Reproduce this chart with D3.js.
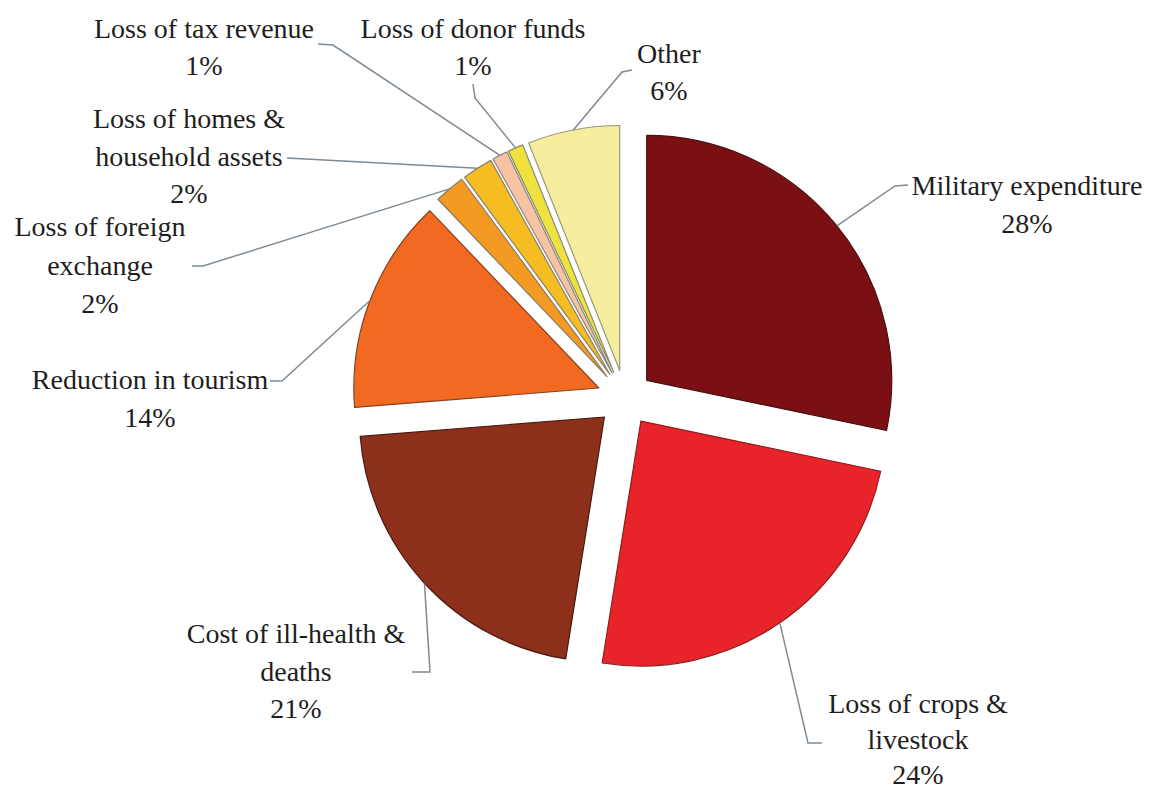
<!DOCTYPE html>
<html>
<head>
<meta charset="utf-8">
<script src="https://cdn.jsdelivr.net/npm/d3@7"></script>
<style>
  html, body { margin: 0; padding: 0; background: #ffffff; }
  svg { display: block; }
</style>
</head>
<body>
<svg id="chart" width="1158" height="793"></svg>
<script>
// ---- data ----
const categories = [
  "Military expenditure",
  "Loss of crops & livestock",
  "Cost of ill-health & deaths",
  "Reduction in tourism",
  "Loss of foreign exchange",
  "Loss of homes & household assets",
  "Loss of tax revenue",
  "Loss of donor funds",
  "Other"
];
const values = [28, 24, 21, 14, 2, 2, 1, 1, 6];
const percentLabels = ["28%", "24%", "21%", "14%", "2%", "2%", "1%", "1%", "6%"];
const labelLines = [
  ["Military expenditure"],
  ["Loss of crops &", "livestock"],
  ["Cost of ill-health &", "deaths"],
  ["Reduction in tourism"],
  ["Loss of foreign", "exchange"],
  ["Loss of homes &", "household assets"],
  ["Loss of tax revenue"],
  ["Loss of donor funds"],
  ["Other"]
];

// ---- styles / layout ----
const colors = ["#7a0f14", "#e8232a", "#8c2f1b", "#f26a22", "#f39a22", "#f5bd22", "#f7c3a2", "#efe23e", "#f6ee9e"];
const strokes = ["#4a1010", "#8a2020", "#4a1a10", "#8a4020", "#8a7a60", "#8a8070", "#8a8a80", "#8a8a70", "#9a9a80"];
const cx = 625, cy = 398, radius = 245, explode = 28;
const fontSize = 28;
const fontFamily = "'Liberation Serif', monospace";
// label layout: text centre x, first baseline y, line height, leader-line elbow points (from slice outwards)
const labelLayout = [
  { x: 1027, y: 195, lh: 37.5, pts: [[895, 186], [908, 185]] },
  { x: 918,  y: 713, lh: 35.5, pts: [[808, 743], [822, 743]] },
  { x: 296,  y: 643, lh: 37.5, pts: [[430, 672], [412, 672]] },
  { x: 150,  y: 389, lh: 37.5, pts: [[282, 381], [270, 381]] },
  { x: 100,  y: 236, lh: 38.5, pts: [[203, 266], [192, 266]] },
  { x: 189,  y: 128, lh: 37.5, pts: [[287, 158]] },
  { x: 204,  y: 38,  lh: 37,   pts: [[333, 45], [318, 44]] },
  { x: 473,  y: 38,  lh: 37,   pts: [[475, 98], [473, 84]] },
  { x: 669,  y: 63,  lh: 37,   pts: [[622, 72], [632, 70]] }
];

const svg = d3.select("#chart");
const g = svg.append("g").attr("transform", `translate(${cx},${cy})`);

const pie = d3.pie().sort(null).value(d => d)(values);
const arc = d3.arc().innerRadius(0).outerRadius(radius);

function offset(d) {
  const a = (d.startAngle + d.endAngle) / 2;
  return [Math.sin(a) * explode, -Math.cos(a) * explode];
}

g.selectAll("path.slice")
  .data(pie)
  .join("path")
  .attr("class", "slice")
  .attr("transform", d => { const o = offset(d); return `translate(${o[0]},${o[1]})`; })
  .attr("d", arc)
  .attr("fill", (d, i) => colors[i])
  .attr("stroke", (d, i) => strokes[i])
  .attr("stroke-width", 1.2)
  .attr("stroke-linejoin", "round");

// leader lines
const line = d3.line();
pie.forEach((d, i) => {
  const a = (d.startAngle + d.endAngle) / 2;
  const o = offset(d);
  const start = [cx + o[0] + Math.sin(a) * radius, cy + o[1] - Math.cos(a) * radius];
  const pts = [start].concat(labelLayout[i].pts);
  svg.append("path")
    .attr("d", line(pts))
    .attr("fill", "none")
    .attr("stroke", "#7f8a93")
    .attr("stroke-width", 1.5);
});

// labels (one text element per line)
pie.forEach((d, i) => {
  const L = labelLayout[i];
  const lines = labelLines[i].concat([percentLabels[i]]);
  lines.forEach((s, k) => {
    svg.append("text")
      .attr("x", L.x)
      .attr("y", L.y + k * L.lh)
      .attr("text-anchor", "middle")
      .attr("font-size", fontSize)
      .style("font-family", fontFamily)
      .attr("fill", "#1e1e1e")
      .text(s);
  });
});
</script>
</body>
</html>
